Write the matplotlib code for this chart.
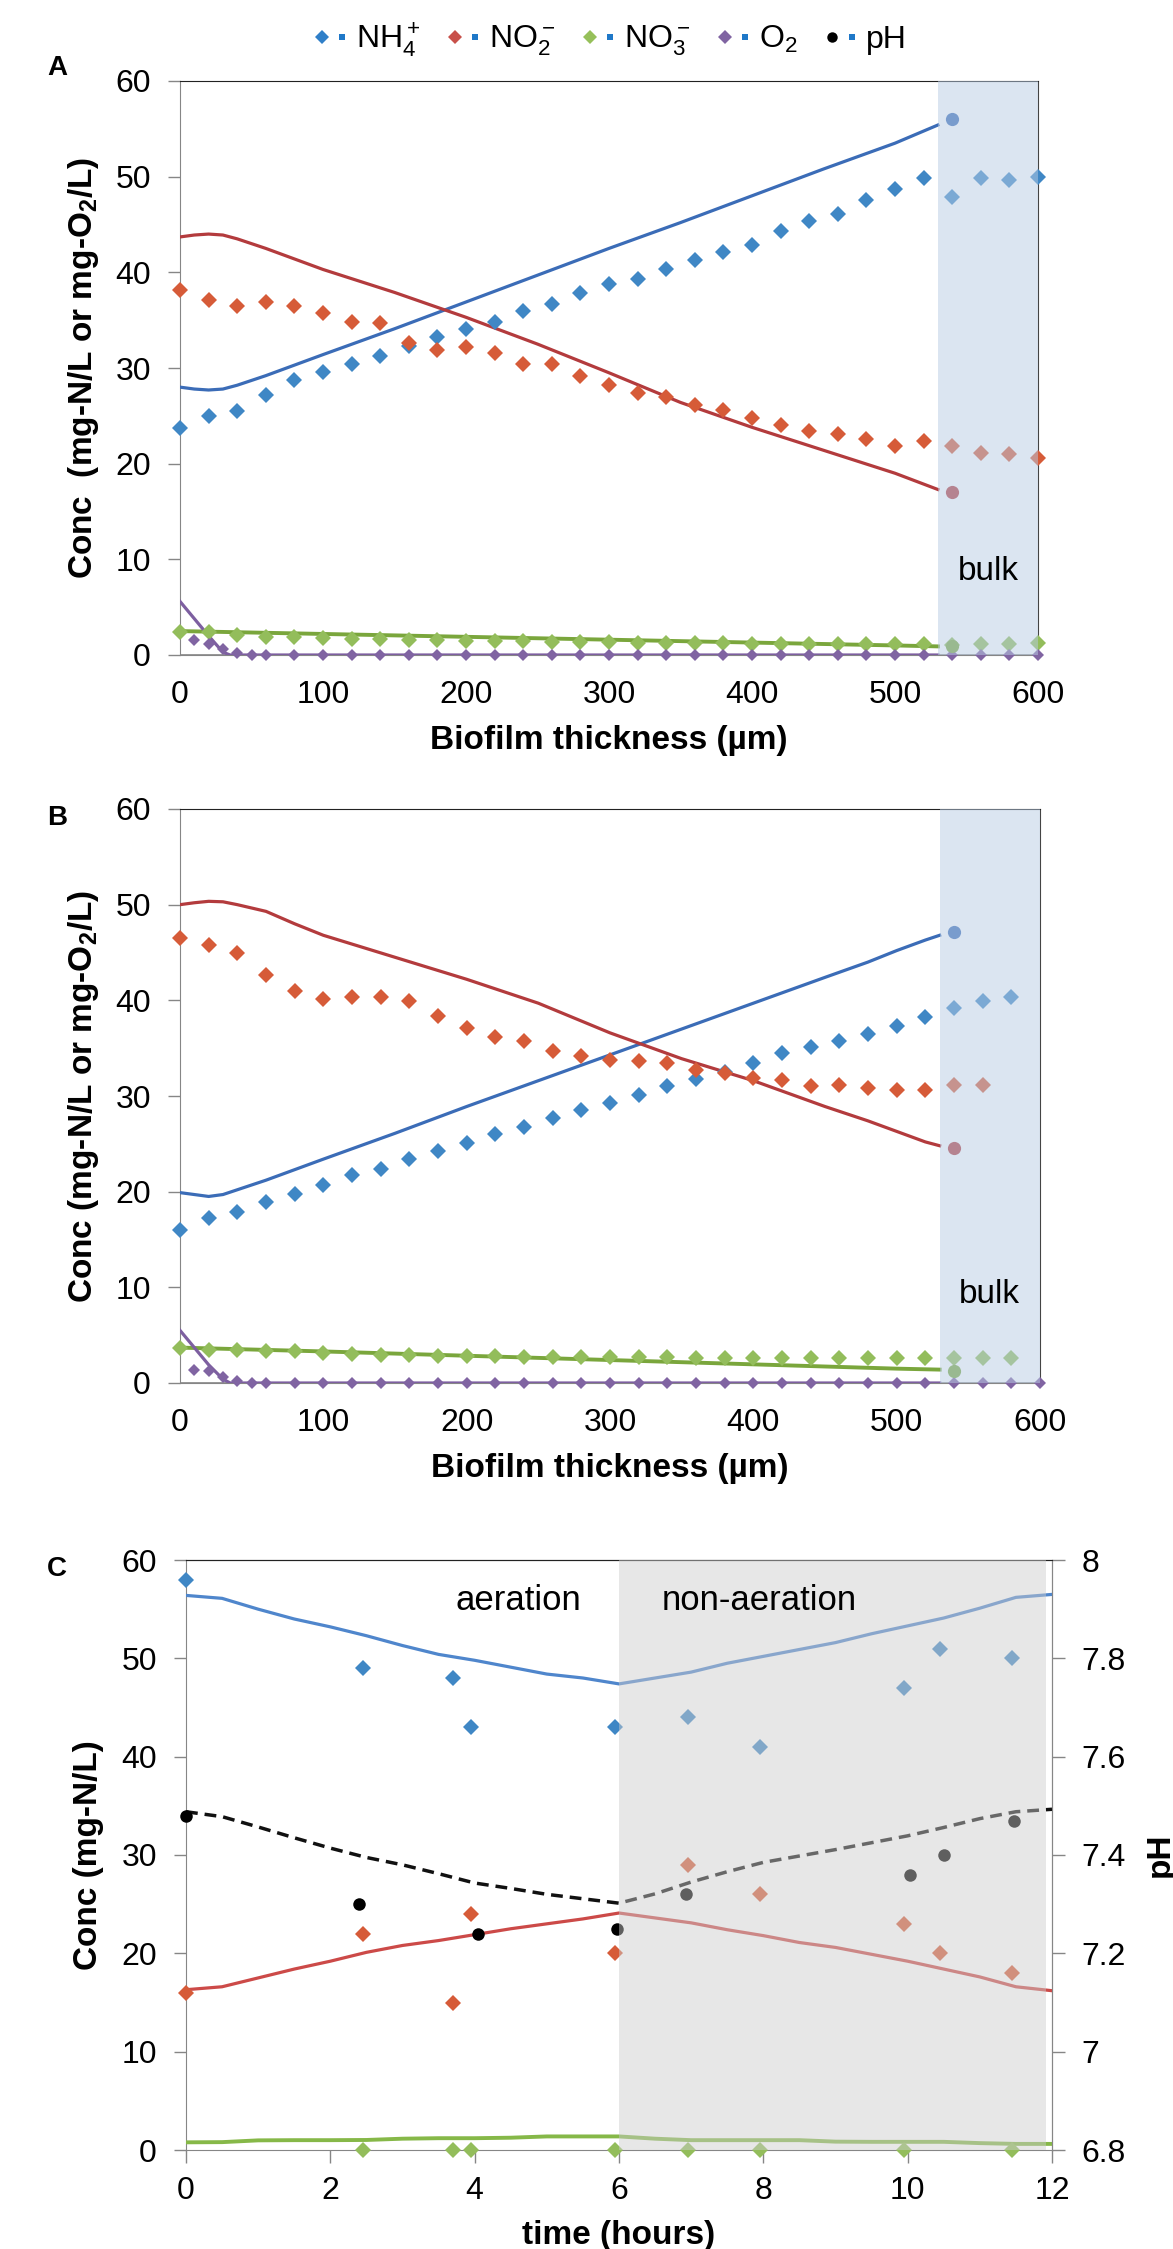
import matplotlib
matplotlib.use("Agg")
import matplotlib.pyplot as plt
from matplotlib.lines import Line2D
from matplotlib.legend_handler import HandlerTuple

plt.rcParams['font.family'] = ['Liberation Sans', 'DejaVu Sans']
plt.rcParams['mathtext.fontset'] = 'custom'
plt.rcParams['mathtext.rm'] = 'Liberation Sans'
plt.rcParams['mathtext.it'] = 'Liberation Sans:italic'
plt.rcParams['mathtext.bf'] = 'Liberation Sans:bold'

# ---------------- panel A : biofilm profile ----------------
a_x = list(range(0, 601, 20))
a_nh4 = [23.7, 25.0, 25.5, 27.2, 28.7, 29.6, 30.4, 31.3, 32.3, 33.2, 34.1, 34.8, 36.0, 36.7, 37.8,
         38.8, 39.3, 40.4, 41.3, 42.1, 42.9, 44.3, 45.4, 46.1, 47.6, 48.7, 49.9, 47.9, 49.9, 49.6, 50.0]
a_no2 = [38.2, 37.1, 36.5, 36.9, 36.5, 35.7, 34.8, 34.7, 32.6, 31.9, 32.2, 31.6, 30.4, 30.4, 29.2,
         28.2, 27.4, 27.0, 26.1, 25.6, 24.8, 24.0, 23.4, 23.1, 22.6, 21.8, 22.4, 21.8, 21.1, 21.0, 20.6]
a_no3 = [2.4, 2.4, 2.1, 1.9, 1.9, 1.8, 1.7, 1.7, 1.6, 1.6, 1.5, 1.5, 1.5, 1.4, 1.4,
         1.4, 1.3, 1.3, 1.3, 1.3, 1.2, 1.2, 1.2, 1.2, 1.2, 1.2, 1.2, 1.05, 1.1, 1.2, 1.3]
a_o2_x = [10, 20, 30, 40, 50] + list(range(60, 601, 20))
a_o2 = [1.6, 1.1, 0.6, 0.2, 0.05] + [0.0] * 28

# model curves A
a_m_x = [0, 10, 20, 30, 40, 50, 60, 80, 100, 150, 200, 250, 300, 350, 400, 450, 500, 530]
a_m_nh4 = [28.0, 27.8, 27.7, 27.8, 28.2, 28.7, 29.2, 30.3, 31.4, 34.1, 36.9, 39.7, 42.5, 45.2, 48.0, 50.8, 53.5, 55.4]
a_m_no2 = [43.7, 43.9, 44.0, 43.9, 43.5, 43.0, 42.5, 41.4, 40.3, 37.9, 35.3, 32.5, 29.5, 26.4, 23.8, 21.4, 19.0, 17.3]
a_m_no3_x = [0, 100, 200, 300, 400, 500, 530]
a_m_no3 = [2.5, 2.2, 1.9, 1.6, 1.3, 1.0, 0.9]
a_m_o2_x = [0, 10, 20, 30, 35, 530]
a_m_o2 = [5.6, 3.8, 2.0, 0.3, 0.0, 0.0]
a_bulk = {'nh4': 56.0, 'no2': 17.0, 'no3': 0.9}

# ---------------- panel B : biofilm profile ----------------
b_nh4_x = list(range(0, 581, 20))
b_nh4 = [16.0, 17.2, 17.9, 18.9, 19.8, 20.7, 21.7, 22.4, 23.4, 24.2, 25.1, 26.0, 26.8, 27.7, 28.5,
         29.3, 30.1, 31.0, 31.8, 32.5, 33.5, 34.5, 35.1, 35.7, 36.5, 37.3, 38.3, 39.2, 39.9, 40.3]
b_no2_x = list(range(0, 561, 20))
b_no2 = [46.5, 45.8, 45.0, 42.6, 41.0, 40.1, 40.3, 40.3, 39.9, 38.4, 37.1, 36.2, 35.8, 34.7, 34.2,
         33.8, 33.7, 33.5, 32.7, 32.4, 31.9, 31.7, 31.0, 31.2, 30.8, 30.6, 30.6, 31.1, 31.1]
b_no3_x = list(range(0, 581, 20))
b_no3 = [3.65, 3.5, 3.5, 3.3, 3.3, 3.1, 3.0, 2.9, 2.9, 2.8, 2.8, 2.8, 2.7, 2.7, 2.7,
         2.7, 2.7, 2.7, 2.6, 2.6, 2.6, 2.6, 2.6, 2.6, 2.6, 2.6, 2.6, 2.6, 2.6, 2.6]
b_o2_x = [10, 20, 30, 40, 50] + list(range(60, 601, 20))
b_o2 = [1.4, 1.3, 0.6, 0.2, 0.03] + [0.0] * 28

b_m_x = [0, 10, 20, 30, 40, 60, 80, 100, 150, 200, 250, 300, 350, 400, 450, 480, 500, 520, 530]
b_m_nh4 = [19.9, 19.7, 19.5, 19.7, 20.2, 21.2, 22.3, 23.4, 26.1, 28.9, 31.6, 34.3, 37.0, 39.7, 42.4, 44.0, 45.2, 46.3, 46.8]
b_m_no2 = [50.0, 50.2, 50.35, 50.3, 50.0, 49.3, 48.0, 46.8, 44.5, 42.2, 39.7, 36.6, 33.9, 31.6, 28.9, 27.4, 26.3, 25.2, 24.8]
b_m_no3_x = [0, 100, 200, 300, 400, 500, 530]
b_m_no3 = [3.7, 3.3, 2.85, 2.4, 1.95, 1.5, 1.4]
b_m_o2_x = [0, 10, 20, 30, 35, 530]
b_m_o2 = [5.5, 3.7, 1.9, 0.4, 0.0, 0.0]
b_bulk = {'nh4': 47.1, 'no2': 24.6, 'no3': 1.3}

# ---------------- panel C : reactor cycle ----------------
c_t = [0, 2.45, 3.7, 3.95, 5.95, 6.95, 7.95, 9.95, 10.45, 11.45]
c_nh4 = [58, 49, 48, 43, 43, 44, 41, 47, 51, 50]
c_no2 = [16, 22, 15, 24, 20, 29, 26, 23, 20, 18]
c_no3_t = [2.45, 3.7, 3.95, 5.95, 6.95, 7.95, 9.95, 11.45]
c_no3 = [0, 0, 0, 0, 0, 0, 0, 0]
c_ph_t = [0, 2.4, 4.05, 5.97, 6.93, 10.03, 10.5, 11.47]
c_ph = [7.48, 7.30, 7.24, 7.25, 7.32, 7.36, 7.40, 7.47]

c_m_t = [0, 0.5, 1, 1.5, 2, 2.5, 3, 3.5, 4, 4.5, 5, 5.5, 6,
         6.5, 7, 7.5, 8, 8.5, 9, 9.5, 10, 10.5, 11, 11.5, 12]
c_m_nh4 = [56.4, 56.1, 55.0, 54.0, 53.2, 52.3, 51.3, 50.4, 49.8, 49.1, 48.4, 48.0, 47.4,
           48.0, 48.6, 49.5, 50.2, 50.9, 51.6, 52.5, 53.3, 54.1, 55.1, 56.2, 56.5]
c_m_no2 = [16.3, 16.6, 17.5, 18.4, 19.2, 20.1, 20.8, 21.3, 21.9, 22.5, 23.0, 23.5, 24.1,
           23.6, 23.1, 22.4, 21.8, 21.1, 20.6, 19.9, 19.2, 18.4, 17.6, 16.6, 16.2]
c_m_no3 = [0.78, 0.8, 0.98, 1.0, 1.0, 1.02, 1.15, 1.2, 1.2, 1.25, 1.38, 1.38, 1.38,
           1.15, 1.0, 1.0, 1.0, 1.0, 0.85, 0.83, 0.83, 0.83, 0.7, 0.62, 0.62]
c_m_ph = [7.488, 7.478, 7.457, 7.435, 7.414, 7.395, 7.380, 7.362, 7.343, 7.332, 7.320, 7.311, 7.302,
          7.321, 7.345, 7.366, 7.385, 7.398, 7.411, 7.425, 7.439, 7.456, 7.474, 7.488, 7.493]

ph_ticks = [6.8, 7.0, 7.2, 7.4, 7.6, 7.8, 8.0]
ph_labels = ['6.8', '7', '7.2', '7.4', '7.6', '7.8', '8']

# colours
col_nh4 = '#3f87c5'
col_no2 = '#d65b38'
col_no3 = '#93bd5b'
col_o2 = '#8064a2'
line_nh4 = '#3b6cb7'
line_no2 = '#b33b3d'
line_no3 = '#7aa63c'
line_o2 = '#7d5fa0'
axis_grey = '#868686'

FS = 23      # tick labels
LFS = 24     # axis labels
MS = 7.8     # diamond size
W, H = 1173, 2249

fig = plt.figure(figsize=(W / 100, H / 100), dpi=100)
axA = fig.add_axes([180 / W, 1 - 655 / H, 858 / W, 574 / H])
axB = fig.add_axes([180 / W, 1 - 1383 / H, 860 / W, 574 / H])
axC = fig.add_axes([186 / W, 1 - 2150 / H, 866 / W, 590 / H])


def profile(ax, xs, m, meas, bulk, ylab, bulk_y):
    # model lines
    ax.plot(m['x'], m['nh4'], color=line_nh4, lw=2.3, zorder=3)
    ax.plot(m['x'], m['no2'], color=line_no2, lw=2.3, zorder=3)
    ax.plot(m['no3_x'], m['no3'], color=line_no3, lw=2.8, zorder=3)
    ax.plot(m['o2_x'], m['o2'], color=line_o2, lw=2.3, zorder=3)
    # measured
    ax.plot(xs['nh4'], meas['nh4'], 'D', ms=MS, color=col_nh4, mew=0, zorder=4, clip_on=False)
    ax.plot(xs['no2'], meas['no2'], 'D', ms=MS, color=col_no2, mew=0, zorder=4, clip_on=False)
    ax.plot(xs['no3'], meas['no3'], 'D', ms=MS, color=col_no3, mew=0, zorder=4, clip_on=False)
    ax.plot(xs['o2'], meas['o2'], 'D', ms=MS - 1.3, color=col_o2, mew=0, zorder=4, clip_on=False)
    # bulk values
    ax.plot([540], [bulk['nh4']], 'o', ms=9.5, color=line_nh4, mew=0, zorder=4)
    ax.plot([540], [bulk['no2']], 'o', ms=9.5, color=line_no2, mew=0, zorder=4)
    ax.plot([540], [bulk['no3']], 'o', ms=9.5, color=line_no3, mew=0, zorder=4)
    ax.axvspan(530, 600, facecolor='#b8cce4', alpha=0.5, lw=0, zorder=6)
    ax.text(565, bulk_y, 'bulk', ha='center', va='center', fontsize=24, zorder=7)

    ax.set_xlim(0, 600)
    ax.set_ylim(0, 60)
    ax.set_xticks(range(0, 601, 100))
    ax.set_yticks(range(0, 61, 10))
    ax.tick_params(axis='x', length=0, pad=18, labelsize=FS)
    ax.tick_params(axis='y', length=9, width=1, color=axis_grey, pad=12, labelsize=FS)
    ax.axhline(0, color=axis_grey, lw=1.2, zorder=2)
    for s in ['left', 'bottom']:
        ax.spines[s].set_color(axis_grey)
    ax.spines['top'].set_color('#222222')
    ax.spines['right'].set_color('#444444')
    ax.set_xlabel('Biofilm thickness (µm)', fontsize=LFS, fontweight='bold')
    ax.xaxis.set_label_coords(0.5, -0.122)
    ax.set_ylabel(ylab, fontsize=LFS, fontweight='bold')
    ax.yaxis.set_label_coords(-0.092, 0.5)


profile(axA,
        {'nh4': a_x, 'no2': a_x, 'no3': a_x, 'o2': a_o2_x},
        {'x': a_m_x, 'nh4': a_m_nh4, 'no2': a_m_no2, 'no3_x': a_m_no3_x, 'no3': a_m_no3,
         'o2_x': a_m_o2_x, 'o2': a_m_o2},
        {'nh4': a_nh4, 'no2': a_no2, 'no3': a_no3, 'o2': a_o2},
        a_bulk, r'Conc  (mg-N/L or mg-O$_\mathbf{2}$/L)', 8.7)

profile(axB,
        {'nh4': b_nh4_x, 'no2': b_no2_x, 'no3': b_no3_x, 'o2': b_o2_x},
        {'x': b_m_x, 'nh4': b_m_nh4, 'no2': b_m_no2, 'no3_x': b_m_no3_x, 'no3': b_m_no3,
         'o2_x': b_m_o2_x, 'o2': b_m_o2},
        {'nh4': b_nh4, 'no2': b_no2, 'no3': b_no3, 'o2': b_o2},
        b_bulk, r'Conc (mg-N/L or mg-O$_\mathbf{2}$/L)', 9.2)

# panel C
axC.plot(c_m_t, c_m_nh4, color='#4f86cc', lw=2.3, zorder=3)
axC.plot(c_m_t, c_m_no2, color='#cc4a48', lw=2.3, zorder=3)
axC.plot(c_m_t, c_m_no3, color='#86b848', lw=2.8, zorder=3)
axC.plot(c_t, c_nh4, 'D', ms=MS, color=col_nh4, mew=0, zorder=4, clip_on=False)
axC.plot(c_t, c_no2, 'D', ms=MS, color=col_no2, mew=0, zorder=4, clip_on=False)
axC.plot(c_no3_t, c_no3, 'D', ms=MS, color=col_no3, mew=0, zorder=4, clip_on=False)
axC.set_xlim(0, 12)
axC.set_ylim(0, 60)
axC.set_xticks(range(0, 13, 2))
axC.set_yticks(range(0, 61, 10))
axC.tick_params(axis='both', length=9, width=1, color=axis_grey, labelsize=FS)
axC.tick_params(axis='x', pad=10)
axC.tick_params(axis='y', pad=12)
for s in ['left', 'bottom', 'right']:
    axC.spines[s].set_color(axis_grey)
axC.spines['top'].set_color('#222222')
axC.set_xlabel('time (hours)', fontsize=LFS, fontweight='bold')
axC.xaxis.set_label_coords(0.5, -0.118)
axC.set_ylabel('Conc (mg-N/L)', fontsize=LFS, fontweight='bold')
axC.yaxis.set_label_coords(-0.095, 0.5)

axP = axC.twinx()
axP.plot(c_m_t, c_m_ph, color='#111111', lw=2.5, dashes=(3.4, 2), zorder=3)
axP.plot(c_ph_t, c_ph, 'o', ms=9, color='#000000', mew=0, zorder=4, clip_on=False)
axP.axvspan(6, 11.92, facecolor='#cccccc', alpha=0.47, lw=0, zorder=6)
axP.set_ylim(6.8, 8.0)
axP.set_yticks(ph_ticks)
axP.set_yticklabels(ph_labels)
axP.tick_params(axis='y', length=9, width=1, color=axis_grey, pad=12, labelsize=FS)
axP.spines['right'].set_color(axis_grey)
axP.spines['left'].set_visible(False)
axP.spines['bottom'].set_visible(False)
axP.spines['top'].set_color('#222222')
axP.set_ylabel('pH', fontsize=LFS, fontweight='bold', rotation=90)
axP.yaxis.set_label_coords(1.107, 0.5)
axP.text(4.6, 55.9, 'aeration', ha='center', va='center', fontsize=25,
         transform=axC.transData, zorder=8)
axP.text(7.95, 55.9, 'non-aeration', ha='center', va='center', fontsize=25,
         transform=axC.transData, zorder=8)

# panel letters
fig.text(57 / W, 1 - 68 / H, 'A', fontsize=20, fontweight='bold', ha='center', va='center')
fig.text(57 / W, 1 - 818 / H, 'B', fontsize=20, fontweight='bold', ha='center', va='center')
fig.text(57 / W, 1 - 1569 / H, 'C', fontsize=20, fontweight='bold', ha='center', va='center')

# legend on top
sq = dict(marker='s', ms=5, color='#1f78c8', ls='none', mew=0)
handles = [
    (Line2D([], [], marker='D', ms=7.5, color='#2f7fc8', ls='none', mew=0), Line2D([], [], **sq)),
    (Line2D([], [], marker='D', ms=7.5, color='#c8504a', ls='none', mew=0), Line2D([], [], **sq)),
    (Line2D([], [], marker='D', ms=7.5, color='#96c05a', ls='none', mew=0), Line2D([], [], **sq)),
    (Line2D([], [], marker='D', ms=7.5, color='#8064a2', ls='none', mew=0), Line2D([], [], **sq)),
    (Line2D([], [], marker='o', ms=7.5, color='#000000', ls='none', mew=0), Line2D([], [], **sq)),
]
labels = [r'NH$_4^+$', r'NO$_2^-$', r'NO$_3^-$', r'O$_2$', 'pH']
fig.legend(handles, labels, loc='center', bbox_to_anchor=(610 / W, 1 - 40 / H), ncol=5,
           frameon=False, fontsize=23, handler_map={tuple: HandlerTuple(ndivide=None, pad=0.05)},
           handlelength=1.2, handletextpad=0.15, columnspacing=0.8)

fig.savefig('out.png', dpi=100)
